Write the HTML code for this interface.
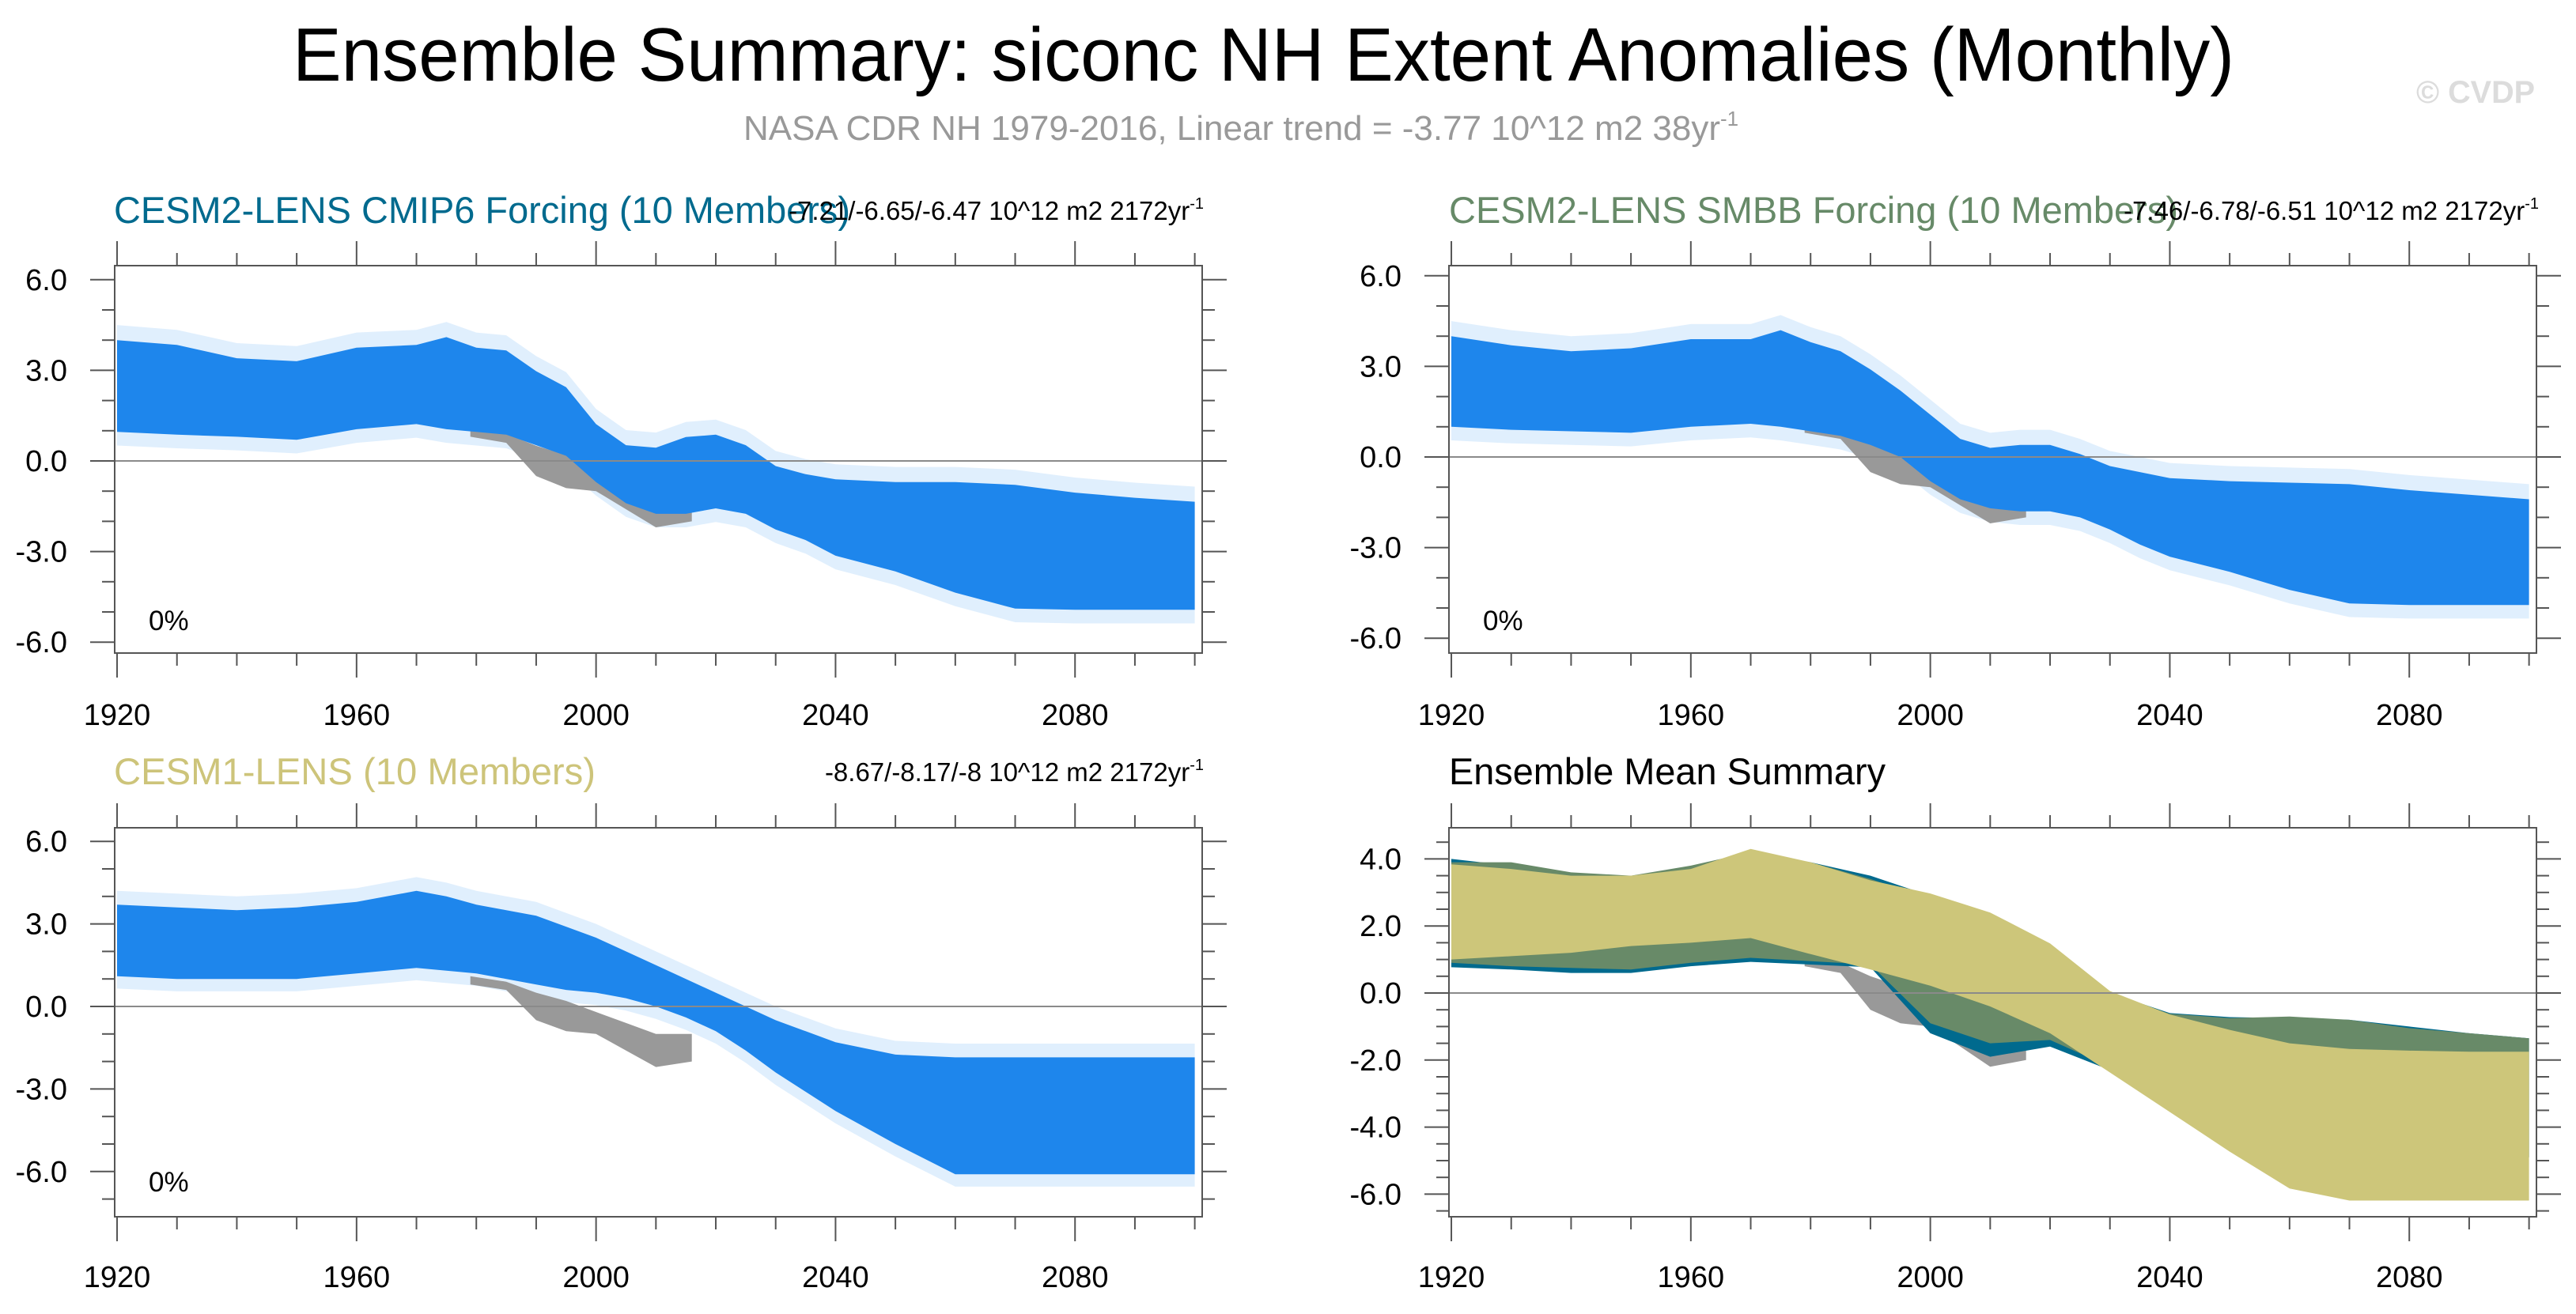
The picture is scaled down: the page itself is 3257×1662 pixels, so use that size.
<!DOCTYPE html>
<html><head><meta charset="utf-8">
<style>
html,body{margin:0;padding:0;background:#fff;}
svg{display:block;font-family:"Liberation Sans",Arial,sans-serif;}
</style></head>
<body>
<svg id="chart" xmlns="http://www.w3.org/2000/svg" width="3257" height="1662" viewBox="0 0 3257 1662">
<rect width="3257" height="1662" fill="#fff"/>
<text x="370" y="102" font-size="96" textLength="2455" lengthAdjust="spacingAndGlyphs">Ensemble Summary: siconc NH Extent Anomalies (Monthly)</text>
<text x="940" y="177" font-size="44" fill="#999" >NASA CDR NH 1979-2016, Linear trend = -3.77 10^12 m2 38yr<tspan font-size="26" dy="-18">-1</tspan></text>
<text x="3055" y="130" font-size="40" font-weight="bold" fill="#dcdcdc" textLength="150" lengthAdjust="spacingAndGlyphs">© CVDP</text>

<text x="144" y="282" font-size="47" fill="#006a8e" textLength="931" lengthAdjust="spacingAndGlyphs">CESM2-LENS CMIP6 Forcing (10 Members)</text>
<text x="1522" y="278" font-size="33" text-anchor="end">-7.21/-6.65/-6.47 10^12 m2 2172yr<tspan font-size="20" dy="-14">-1</tspan></text>
<text x="1832" y="282" font-size="47" fill="#678a68" textLength="922" lengthAdjust="spacingAndGlyphs">CESM2-LENS SMBB Forcing (10 Members)</text>
<text x="3210" y="278" font-size="33" text-anchor="end">-7.46/-6.78/-6.51 10^12 m2 2172yr<tspan font-size="20" dy="-14">-1</tspan></text>
<text x="144" y="992" font-size="47" fill="#cdc47a" textLength="609" lengthAdjust="spacingAndGlyphs">CESM1-LENS (10 Members)</text>
<text x="1522" y="988" font-size="33" text-anchor="end">-8.67/-8.17/-8 10^12 m2 2172yr<tspan font-size="20" dy="-14">-1</tspan></text>
<text x="1832" y="992" font-size="47" fill="#000" textLength="552" lengthAdjust="spacingAndGlyphs">Ensemble Mean Summary</text>
<g id="plots"></g>
</svg>
<script>
// ---- data (annual/5-yearly envelope of monthly anomalies, 10^12 m2) ----
const years = [1920,1930,1940,1950,1960,1970,1975,1980,1985,1990,1995,2000,2005,2010,2015,2020,2025,2030,2035,2040,2050,2060,2070,2080,2090,2100];
const cmip6Upper = [4.0,3.84,3.4,3.3,3.75,3.84,4.1,3.75,3.66,2.97,2.44,1.22,0.52,0.44,0.79,0.87,0.52,-0.17,-0.44,-0.61,-0.7,-0.7,-0.79,-1.05,-1.22,-1.35];
const cmip6Lower = [0.96,0.87,0.8,0.7,1.05,1.22,1.05,0.96,0.87,0.52,0.17,-0.7,-1.4,-1.75,-1.75,-1.57,-1.75,-2.27,-2.62,-3.14,-3.66,-4.36,-4.89,-4.93,-4.93,-4.93];
const smbbUpper = [4.0,3.7,3.5,3.6,3.9,3.9,4.2,3.8,3.5,2.9,2.2,1.4,0.6,0.3,0.4,0.4,0.1,-0.3,-0.5,-0.7,-0.8,-0.85,-0.9,-1.1,-1.25,-1.4];
const smbbLower = [1.0,0.9,0.85,0.8,1.0,1.1,1.0,0.85,0.7,0.4,0.0,-0.8,-1.4,-1.7,-1.8,-1.8,-2.0,-2.4,-2.9,-3.3,-3.8,-4.4,-4.85,-4.9,-4.9,-4.9];
const cesm1Upper = [3.7,3.6,3.5,3.6,3.8,4.2,4.0,3.7,3.5,3.3,2.9,2.5,2.0,1.5,1.0,0.5,0.0,-0.5,-0.9,-1.3,-1.75,-1.85,-1.85,-1.85,-1.85,-1.85];
const cesm1Lower = [1.1,1.0,1.0,1.0,1.2,1.4,1.3,1.2,1.0,0.8,0.6,0.5,0.3,0.0,-0.4,-0.9,-1.6,-2.4,-3.1,-3.8,-5.0,-6.1,-6.1,-6.1,-6.1,-6.1];
const obsYears = [1979,1985,1990,1995,2000,2005,2010,2016];
const obsUpper = [1.1,0.9,0.5,0.2,-0.2,-0.6,-1.0,-1.0];
const obsLower = [0.8,0.6,-0.5,-0.9,-1.0,-1.6,-2.2,-2.0];
// ensemble means (panel 4)
const meanYears = [1920,1930,1940,1950,1960,1970,1980,1990,2000,2010,2020,2030,2040,2050,2060,2070,2080,2090,2100];
const meanCmip6Upper = [4.0,3.8,3.5,3.44,3.7,4.2,3.9,3.5,2.9,2.3,1.4,0.0,-0.6,-0.72,-0.75,-0.8,-1.0,-1.2,-1.35];
const meanCmip6Lower = [0.77,0.7,0.6,0.6,0.8,0.93,0.85,0.77,-1.2,-1.9,-1.6,-2.3,-3.1,-3.7,-4.4,-4.9,-4.9,-4.9,-4.9];
const meanSmbbUpper = [3.9,3.9,3.6,3.5,3.8,4.2,3.9,3.4,2.8,2.1,1.3,0.0,-0.62,-0.75,-0.7,-0.8,-1.05,-1.2,-1.35];
const meanSmbbLower = [0.9,0.8,0.75,0.7,0.9,1.05,0.95,0.85,-0.9,-1.5,-1.4,-2.2,-3.1,-3.7,-4.4,-4.85,-4.9,-4.9,-4.9];
const meanCesm1Upper = [3.84,3.7,3.5,3.5,3.7,4.3,3.9,3.36,2.97,2.4,1.48,0.06,-0.64,-1.1,-1.5,-1.67,-1.72,-1.75,-1.75];
const meanCesm1Lower = [1.0,1.1,1.2,1.4,1.5,1.64,1.16,0.7,0.22,-0.4,-1.2,-2.37,-3.55,-4.73,-5.83,-6.19,-6.19,-6.19,-6.19];
const xMajorTicks = [1920,1960,2000,2040,2080];
const xMinorTicks = [1920,1930,1940,1950,1960,1970,1980,1990,2000,2010,2020,2030,2040,2050,2060,2070,2080,2090,2100];

const NS = "http://www.w3.org/2000/svg";
const root = document.getElementById('plots');
function mk(tag, attrs, parent){ const e=document.createElementNS(NS,tag); for(const k in attrs) e.setAttribute(k,attrs[k]); (parent||root).appendChild(e); return e; }

const panels = [
 {id:'panel1', left:145, top:336, bottom:826, zero:583, ppu:38.2, yMajor:[-6,-3,0,3,6], yMinorStep:1, labY:917, pct:797, pctX:188, labRight:85},
 {id:'panel2', left:1832, top:336, bottom:826, zero:578, ppu:38.2, yMajor:[-6,-3,0,3,6], yMinorStep:1, labY:917, pct:797, pctX:1875, labRight:1772},
 {id:'panel3', left:145, top:1047, bottom:1539, zero:1273, ppu:34.8, yMajor:[-6,-3,0,3,6], yMinorStep:1, labY:1628, pct:1507, pctX:188, labRight:85},
 {id:'panel4', left:1832, top:1047, bottom:1539, zero:1256, ppu:42.4, yMajor:[-6,-4,-2,0,2,4], yMinorStep:0.5, labY:1628, pct:null, labRight:1772}
];
const W = 1375, PPY = 7.57, X0 = 1919.6;

function band(p, xs, up, lo, fill, name, opacity){
  const X = y => p.left + (y - X0)*PPY, Y = v => p.zero - v*p.ppu;
  let pts = xs.map((yr,i)=>X(yr).toFixed(1)+','+Y(up[i]).toFixed(1));
  for(let i=xs.length-1;i>=0;i--) pts.push(X(xs[i]).toFixed(1)+','+Y(lo[i]).toFixed(1));
  const e = mk('polygon',{points:pts.join(' '),fill:fill,'fill-opacity':opacity||1},p.g);
  
  
  return e;
}
function halo(arr, d){ return arr.map(v=>v+d); }

panels.forEach((p,pi)=>{
  const g = mk('g',{});
  
  
  p.g = g;
  const right = p.left + W;
  const X = y => p.left + (y - X0)*PPY, Y = v => p.zero - v*p.ppu;
  if(pi<3){
    const U = [cmip6Upper,smbbUpper,cesm1Upper][pi], L=[cmip6Lower,smbbLower,cesm1Lower][pi];
    band(p, years, halo(U,0.5), halo(L,-0.45), '#8fc4f7', 'ensemble-spread-halo', 0.28);
    band(p, obsYears, obsUpper, obsLower, '#999999', 'observations-band');
    band(p, years, U, L, '#1e86ec', 'ensemble-members-band');
  } else {
    band(p, obsYears, obsUpper, obsLower, '#999999', 'observations-band');
    band(p, meanYears, meanCmip6Upper, meanCmip6Lower, '#006a8e', 'cesm2-cmip6-mean');
    band(p, meanYears, meanSmbbUpper, meanSmbbLower, '#688a68', 'cesm2-smbb-mean');
    band(p, meanYears, meanCesm1Upper, meanCesm1Lower, '#cdc67a', 'cesm1-mean');
  }
  const z = mk('line',{x1:p.left,x2:right,y1:Y(0),y2:Y(0),stroke:'#8a8a8a','stroke-width':2},g);
  
  
  const b = mk('rect',{x:p.left,y:p.top,width:W,height:p.bottom-p.top,fill:'none',stroke:'#555','stroke-width':2},g);
  
  
  xMinorTicks.forEach(t=>{
    const x=X(t), L = xMajorTicks.includes(t)?31:16;
    mk('line',{x1:x,x2:x,y1:p.top,y2:p.top-L,stroke:'#555','stroke-width':2},g);
    mk('line',{x1:x,x2:x,y1:p.bottom,y2:p.bottom+L,stroke:'#555','stroke-width':2},g);
  });
  xMajorTicks.forEach(t=>{
    const tx = mk('text',{x:X(t),y:p.labY,'font-size':38,'text-anchor':'middle'},g);
    tx.textContent=t;
    
    
  });
  const vTop=(p.zero-p.top)/p.ppu, vBot=(p.zero-p.bottom)/p.ppu;
  for(let v=Math.ceil(vBot/p.yMinorStep)*p.yMinorStep; v<=vTop+1e-9; v+=p.yMinorStep){
    const vv=Math.round(v*100)/100, y=Y(vv), L=p.yMajor.includes(vv)?31:16;
    mk('line',{x1:p.left,x2:p.left-L,y1:y,y2:y,stroke:'#555','stroke-width':2},g);
    mk('line',{x1:right,x2:right+L,y1:y,y2:y,stroke:'#555','stroke-width':2},g);
  }
  p.yMajor.forEach(v=>{
    const tx = mk('text',{x:p.labRight,y:Y(v)+13,'font-size':38,'text-anchor':'end'},g);
    tx.textContent=v.toFixed(1);
    
    
  });
  if(p.pct){
    const tx = mk('text',{x:p.pctX,y:p.pct,'font-size':35},g);
    tx.textContent='0%';
    
    
  }
});
</script>
</body></html>
